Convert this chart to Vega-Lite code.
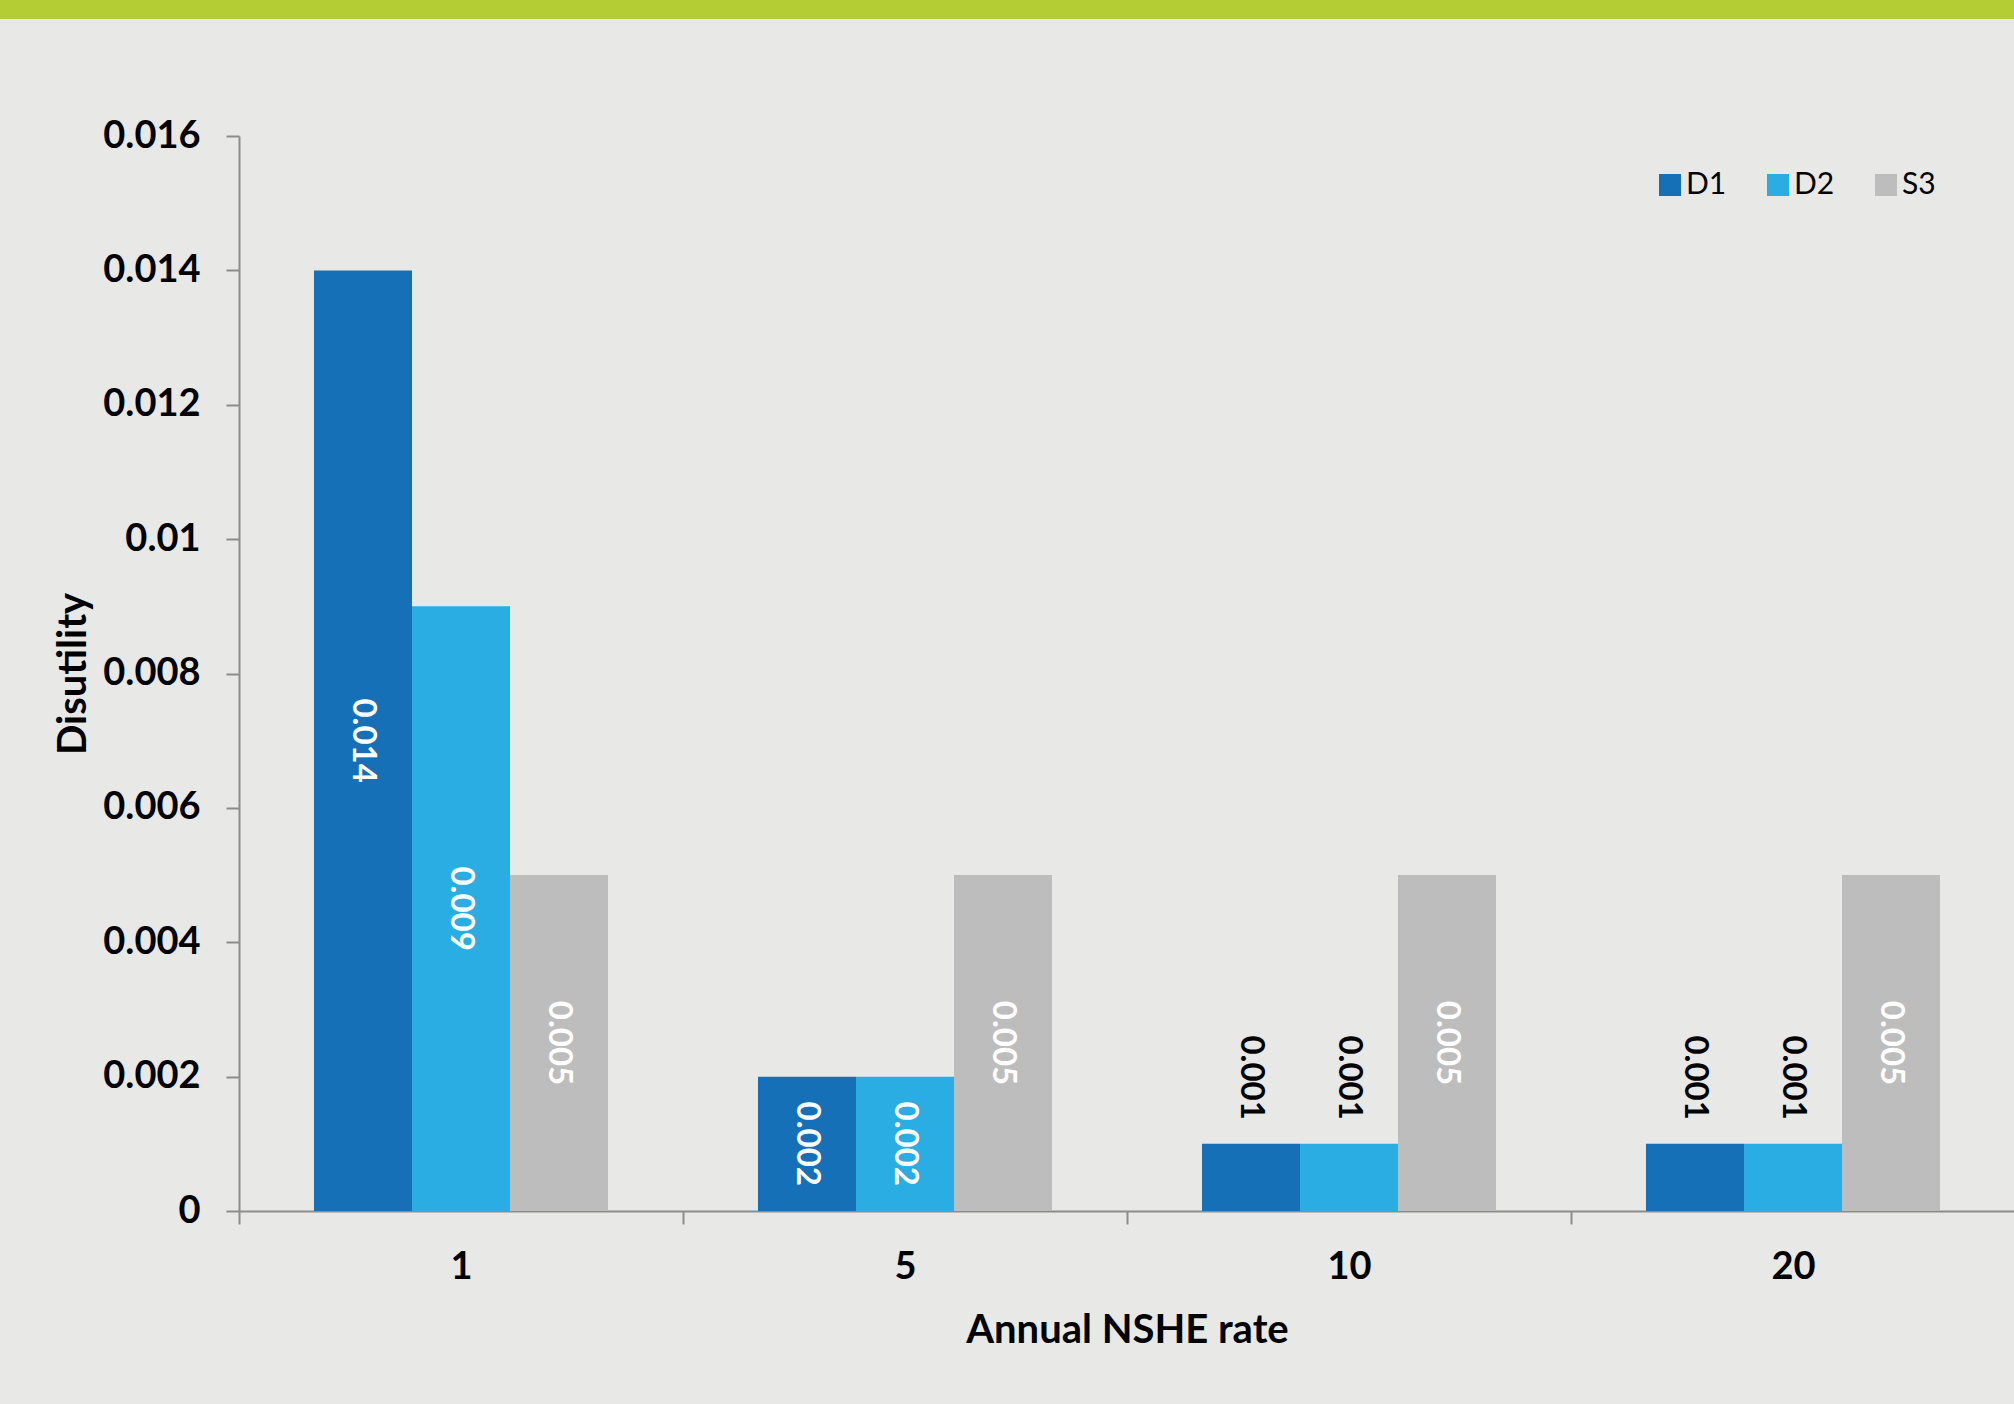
{
  "$schema": "https://vega.github.io/schema/vega-lite/v6.json",
  "width": 1776,
  "height": 1075,
  "autosize": {"type": "none"},
  "padding": {"left": 239, "top": 136, "right": 0, "bottom": 193},
  "background": "#E8E9E6",
  "config": {"view": {"stroke": null}, "font": "Lato"},
  "data": {
    "values": [
      {"rate": 1, "series": "D1", "value": 0.014},
      {"rate": 1, "series": "D2", "value": 0.009},
      {"rate": 1, "series": "S3", "value": 0.005},
      {"rate": 5, "series": "D1", "value": 0.002},
      {"rate": 5, "series": "D2", "value": 0.002},
      {"rate": 5, "series": "S3", "value": 0.005},
      {"rate": 10, "series": "D1", "value": 0.001},
      {"rate": 10, "series": "D2", "value": 0.001},
      {"rate": 10, "series": "S3", "value": 0.005},
      {"rate": 20, "series": "D1", "value": 0.001},
      {"rate": 20, "series": "D2", "value": 0.001},
      {"rate": 20, "series": "S3", "value": 0.005}
    ]
  },
  "layer": [
    {
      "data": {"values": [{}]},
      "mark": {"type": "rect", "color": "#B5CD34"},
      "encoding": {
        "x": {"datum": -0.1347, "type": "quantitative", "scale": {"domain": [0, 1]}, "axis": null},
        "x2": {"datum": 1},
        "y": {"datum": 0.01774, "type": "quantitative", "scale": {"domain": [0, 0.016]}, "axis": null},
        "y2": {"datum": 0.0185}
      }
    },
    {
      "mark": {"type": "bar"},
      "encoding": {
        "x": {
          "field": "rate", "type": "ordinal",
          "scale": {"domain": [1, 5, 10, 20], "paddingInner": 0, "paddingOuter": 0},
          "title": "Annual NSHE rate",
          "axis": {
            "labelAngle": 0, "domainColor": "#8C8C8C", "domainWidth": 2,
            "tickColor": "#8C8C8C", "tickWidth": 2, "tickSize": 13, "tickBand": "extent",
            "labelFont": "Lato", "labelFontWeight": "bold", "labelFontSize": 38, "labelColor": "#000000",
            "labelPadding": 24,
            "titleFont": "Lato", "titleFontWeight": "bold", "titleFontSize": 40, "titleColor": "#000000",
            "titlePadding": 24
          }
        },
        "xOffset": {"field": "series", "type": "nominal", "scale": {"domain": ["D1", "D2", "S3"], "paddingInner": 0, "paddingOuter": 0.765}},
        "y": {
          "field": "value", "type": "quantitative",
          "scale": {"domain": [0, 0.016]},
          "title": "Disutility",
          "axis": {
            "values": [0, 0.002, 0.004, 0.006, 0.008, 0.01, 0.012, 0.014, 0.016],
            "format": "~g", "grid": false,
            "domainColor": "#8C8C8C", "domainWidth": 2,
            "tickColor": "#8C8C8C", "tickWidth": 2, "tickSize": 13,
            "labelFont": "Lato", "labelFontWeight": "bold", "labelFontSize": 38, "labelColor": "#000000",
            "labelPadding": 26,
            "titleFont": "Lato", "titleFontWeight": "bold", "titleFontSize": 40, "titleColor": "#000000",
            "titlePadding": 9
          }
        },
        "color": {
          "field": "series", "type": "nominal",
          "scale": {"domain": ["D1", "D2", "S3"], "range": ["#1570B7", "#2AADE3", "#BDBDBD"]},
          "legend": {
            "title": null, "orient": "none", "legendX": 1416, "legendY": 34,
            "direction": "horizontal", "symbolType": "square", "symbolSize": 484,
            "symbolStrokeWidth": 0, "labelFont": "Lato", "labelFontSize": 30, "labelColor": "#000000",
            "labelOffset": 1, "columnPadding": 36, "padding": 0
          }
        }
      }
    },
    {
      "transform": [{"filter": "datum.value >= 0.002"}],
      "mark": {"type": "text", "angle": 90, "align": "center", "baseline": "middle", "color": "#FFFFFF", "font": "Lato", "fontWeight": "bold", "fontSize": 33},
      "encoding": {
        "x": {"field": "rate", "type": "ordinal", "scale": {"domain": [1, 5, 10, 20], "paddingInner": 0, "paddingOuter": 0}, "axis": null},
        "xOffset": {"field": "series", "type": "nominal", "scale": {"domain": ["left", "D1", "D2", "S3", "right"], "padding": 0.265}},
        "y": {"field": "value", "type": "quantitative", "scale": {"domain": [0, 0.032]}, "axis": null},
        "text": {"field": "value", "type": "quantitative", "format": "~g"}
      }
    },
    {
      "transform": [{"filter": "datum.value < 0.002"}],
      "mark": {"type": "text", "angle": 90, "align": "right", "baseline": "middle", "dx": -24, "color": "#000000", "font": "Lato", "fontWeight": "bold", "fontSize": 33},
      "encoding": {
        "x": {"field": "rate", "type": "ordinal", "scale": {"domain": [1, 5, 10, 20], "paddingInner": 0, "paddingOuter": 0}, "axis": null},
        "xOffset": {"field": "series", "type": "nominal", "scale": {"domain": ["left", "D1", "D2", "S3", "right"], "padding": 0.265}},
        "y": {"field": "value", "type": "quantitative", "scale": {"domain": [0, 0.016]}, "axis": null},
        "text": {"field": "value", "type": "quantitative", "format": "~g"}
      }
    }
  ],
  "resolve": {"scale": {"x": "independent", "y": "independent", "xOffset": "independent"}}
}
